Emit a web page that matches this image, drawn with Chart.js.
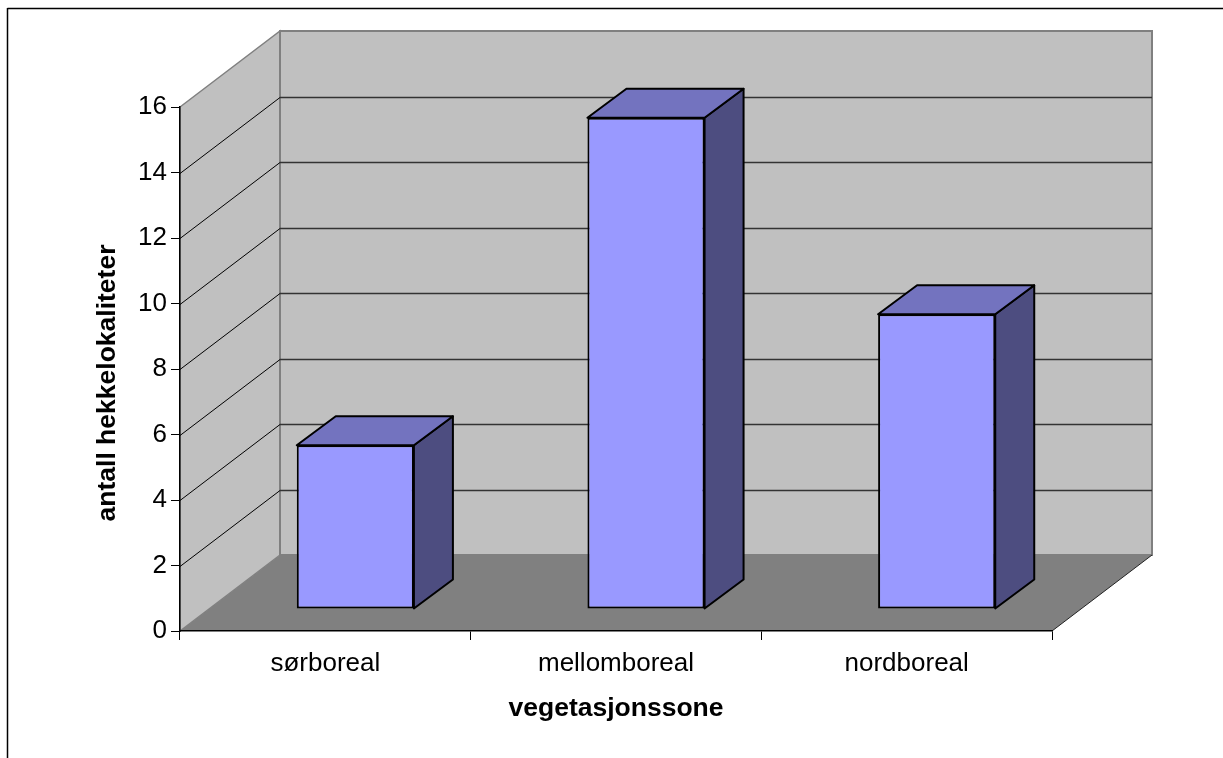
<!DOCTYPE html>
<html>
<head>
<meta charset="utf-8">
<style>
  html, body { margin: 0; padding: 0; background: #fff; }
  canvas { display: block; }
</style>
<script src="https://cdn.jsdelivr.net/npm/chart.js@4"></script>
</head>
<body>
<canvas id="chart" width="1223" height="758"></canvas>
<script>
const categories = ['sørboreal', 'mellomboreal', 'nordboreal'];
const counts = [5, 15, 9];
const yMax = 16;
const yStep = 2;
const xTitle = 'vegetasjonssone';
const yTitle = 'antall hekkelokaliteter';

const fontName = '"Liberation Sans", Arial, sans-serif';
// depth of the box and of the bars, in pixels
const depth = { x: 100, y: -76 };
const barDepth = { x: 39, y: -29 };
const barShift = { x: 30, y: -22 };

function poly(ctx, pts, fill, stroke, lw) {
    ctx.beginPath();
    pts.forEach((p, i) => i ? ctx.lineTo(p[0], p[1]) : ctx.moveTo(p[0], p[1]));
    ctx.closePath();
    if (fill) { ctx.fillStyle = fill; ctx.fill(); }
    if (stroke) { ctx.strokeStyle = stroke; ctx.lineWidth = lw; ctx.stroke(); }
}

function line(ctx, x1, y1, x2, y2, color, lw) {
    ctx.beginPath();
    ctx.moveTo(x1, y1);
    ctx.lineTo(x2, y2);
    ctx.strokeStyle = color;
    ctx.lineWidth = lw;
    ctx.stroke();
}

const box3d = {
    id: 'box3d',
    beforeDraw(chart) {
        const ctx = chart.ctx;
        const { left, right, top, bottom } = chart.chartArea;
        const dx = depth.x, dy = depth.y;
        ctx.save();
        // outer chart frame, cut off by the image on the right and bottom
        line(ctx, 7.5, 8.5, 1223, 8.5, '#000', 1.5);
        line(ctx, 7.5, 8, 7.5, 758, '#000', 1.5);
        // floor
        poly(ctx, [[left, bottom], [left + dx, bottom + dy], [right + dx, bottom + dy], [right, bottom]], '#808080');
        // side and back walls
        poly(ctx, [[left, top], [left + dx, top + dy], [left + dx, bottom + dy], [left, bottom]], '#C0C0C0', '#808080', 1.5);
        poly(ctx, [[left + dx, top + dy], [right + dx, top + dy], [right + dx, bottom + dy], [left + dx, bottom + dy]], '#C0C0C0', '#808080', 2);
        line(ctx, right, bottom, right + dx, bottom + dy, '#222', 1);
        // gridlines, taken from the value axis
        const yScale = chart.scales.y;
        yScale.ticks.forEach(t => {
            if (t.value === 0 || t.value === yMax) return;
            const y = Math.round(yScale.getPixelForValue(t.value)) + 0.5;
            line(ctx, left, y, left + dx, y + dy, '#000', 1);
            line(ctx, left + dx, y + dy, right + dx, y + dy, '#333', 1.5);
        });
        ctx.restore();
    },
    beforeDatasetDraw(chart) {
        chart.ctx.save();
        chart.ctx.translate(barShift.x, barShift.y);
    },
    afterDatasetDraw(chart, args) {
        const ctx = chart.ctx;
        args.meta.data.forEach(bar => {
            const { x, y, base, width } = bar.getProps(['x', 'y', 'base', 'width'], true);
            const l = x - width / 2, r = x + width / 2;
            const dx = barDepth.x, dy = barDepth.y;
            ctx.lineJoin = 'round';
            poly(ctx, [[r, y], [r + dx, y + dy], [r + dx, base + dy], [r, base]], '#4D4D80', '#000', 2);
            poly(ctx, [[l, y], [l + dx, y + dy], [r + dx, y + dy], [r, y]], '#7373BF', '#000', 2);
        });
        ctx.restore();
    },
    afterDraw(chart) {
        const ctx = chart.ctx;
        ctx.save();
        ctx.translate(114.5, 383);
        ctx.rotate(-Math.PI / 2);
        ctx.font = 'bold 26.5px ' + fontName;
        ctx.fillStyle = '#000';
        ctx.textAlign = 'center';
        ctx.textBaseline = 'alphabetic';
        ctx.fillText(yTitle, 0, 0);
        ctx.restore();
    }
};

new Chart(document.getElementById('chart'), {
    type: 'bar',
    data: {
        labels: categories,
        datasets: [{
            label: yTitle,
            data: counts,
            backgroundColor: '#9999FF',
            borderColor: '#000',
            borderWidth: 2,
            borderSkipped: false,
            categoryPercentage: 1,
            barPercentage: 0.403,
            clip: false
        }]
    },
    options: {
        responsive: false,
        animation: false,
        layout: { padding: { top: 107, right: 171, left: 0, bottom: 0 } },
        plugins: { legend: { display: false }, tooltip: { enabled: false } },
        scales: {
            x: {
                afterFit(scale) { scale.height = 127; },
                grid: { offset: true, drawOnChartArea: false, color: '#000', tickLength: 9, lineWidth: 1 },
                border: { color: '#000', width: 1.5 },
                ticks: { color: '#000', font: { family: fontName, size: 26 }, padding: 8, maxRotation: 0 },
                title: {
                    display: true,
                    text: xTitle,
                    color: '#000',
                    font: { family: fontName, size: 26.5, weight: 'bold' },
                    padding: { top: 0, bottom: 33 }
                }
            },
            y: {
                min: 0,
                max: yMax,
                afterFit(scale) { scale.width = 180; },
                grid: { drawOnChartArea: false, color: '#000', tickLength: 9, lineWidth: 1 },
                border: { color: '#000', width: 1.5 },
                ticks: { stepSize: yStep, color: '#000', font: { family: fontName, size: 26 }, padding: 4 }
            }
        }
    },
    plugins: [box3d]
});
</script>
</body>
</html>
